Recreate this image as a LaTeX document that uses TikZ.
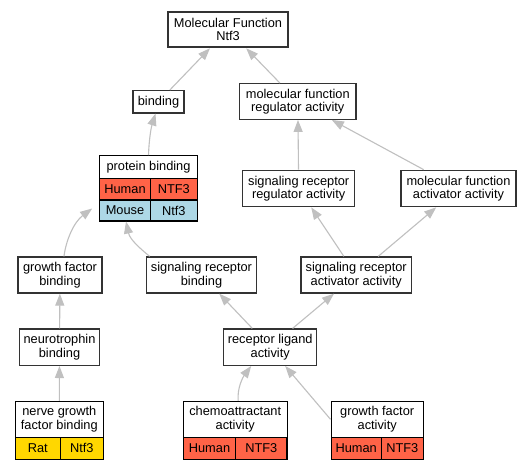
\documentclass[tikz,border=0pt]{standalone}
\usepackage{fontspec}
\setmainfont{Liberation Sans}
\usetikzlibrary{arrows.meta}
\definecolor{tomatoc}{HTML}{FF6347}
\definecolor{lblue}{HTML}{ADD8E6}
\definecolor{goldc}{HTML}{FFD700}
\definecolor{edgec}{HTML}{C0C0C0}
\definecolor{borderc}{HTML}{333333}
\begin{document}
\begin{tikzpicture}[x=1pt,y=-1pt,
  box/.style={draw=borderc, line width=1.3pt, fill=white, inner sep=0pt, align=center,
    font=\fontsize{12.8}{13.5}\selectfont, minimum height=36pt},
  cell/.style={draw=black, line width=1.1pt, inner sep=0pt, align=center,
    font=\fontsize{12.8}{13.5}\selectfont},
  human/.style={cell, fill=tomatoc},
  mouse/.style={cell, fill=lblue},
  rat/.style={cell, fill=goldc},
  edge/.style={draw=edgec, line width=1.1pt, -{Triangle[length=12pt,width=9pt]}}
]
\useasboundingbox (0,0) rectangle (532,469);
\fill[white] (0,0) rectangle (532,469);

% nodes
\node[box, line width=2pt, minimum width=120.6pt, minimum height=35.6pt] (mf) at (228,29.5) {Molecular Function\\Ntf3};
\node[box, minimum width=51pt, minimum height=22.3pt] (binding) at (158.5,101.8) {binding};
\node[box, minimum width=116.3pt, minimum height=35.6pt] (mfra) at (297.8,101.5) {molecular function\\regulator activity};

\node[cell, fill=white, minimum width=97.6pt, minimum height=22.6pt] (pbt) at (148.5,167) {protein binding};
\node[human, minimum width=50.6pt, minimum height=21.7pt] (pbh1) at (125,189.2) {Human};
\node[human, minimum width=47pt, minimum height=21.7pt] (pbh2) at (173.8,189.2) {NTF3};
\node[mouse, minimum width=50.6pt, minimum height=21pt] (pbm1) at (125,210.5) {Mouse};
\node[mouse, minimum width=47pt, minimum height=21pt] (pbm2) at (173.8,210.5) {Ntf3};

\node[box, minimum width=112pt, minimum height=36.4pt] (srra) at (298.7,188.5) {signaling receptor\\regulator activity};
\node[box, minimum width=115pt, minimum height=36.4pt] (mfaa) at (458.5,188.5) {molecular function\\activator activity};

\node[box, minimum width=84pt] (gfb) at (60,275) {growth factor\\binding};
\node[box, minimum width=110.4pt] (srb) at (201.5,275) {signaling receptor\\binding};
\node[box, minimum width=110.3pt] (sraa) at (356.2,275) {signaling receptor\\activator activity};

\node[box, minimum width=80.4pt, minimum height=36.3pt] (nb) at (59.5,347.2) {neurotrophin\\binding};
\node[box, minimum width=93pt, minimum height=36.3pt] (rla) at (270.2,347.2) {receptor ligand\\activity};

\node[cell, fill=white, minimum width=88pt, minimum height=36pt] (ngfbt) at (59.3,419.3) {nerve growth\\factor binding};
\node[rat, minimum width=45pt, minimum height=21.7pt] (ngfb1) at (37.8,448.2) {Rat};
\node[rat, minimum width=43pt, minimum height=21.7pt] (ngfb2) at (81.8,448.2) {Ntf3};

\node[cell, fill=white, minimum width=103.7pt, minimum height=36pt] (chemot) at (235.2,419.3) {chemoattractant\\activity};
\node[human, minimum width=52.4pt, minimum height=21.7pt] (chemo1) at (209.5,448.2) {Human};
\node[human, minimum width=51.3pt, minimum height=21.7pt] (chemo2) at (261.3,448.2) {NTF3};

\node[cell, fill=white, minimum width=92.3pt, minimum height=36pt] (gfat) at (377.2,419.3) {growth factor\\activity};
\node[human, minimum width=50.3pt, minimum height=21.7pt] (gfa1) at (356.2,448.2) {Human};
\node[human, minimum width=42pt, minimum height=21.7pt] (gfa2) at (402.3,448.2) {NTF3};

% edges
\draw[edge] (binding) -- (mf);
\draw[edge] (mfra) -- (mf);
\draw[edge] (pbt.north) .. controls (149,140) and (151,128) .. ([xshift=-3pt]binding.south);
\draw[edge] (srra) -- (mfra);
\draw[edge] (mfaa) -- (mfra);
\draw[edge] ([xshift=4pt]gfb.north) .. controls (66,240) and (74,222) .. ([shift={(-7,-2)}]pbm1.west);
\draw[edge] ([xshift=4pt]srb.north west) .. controls (142,250) and (130,240) .. ([xshift=1pt]pbm1.south);
\draw[edge] (sraa) -- (srra);
\draw[edge] (sraa) -- (mfaa);
\draw[edge] (nb) -- (gfb);
\draw[edge] (rla) -- (srb);
\draw[edge] (rla) -- (sraa);
\draw[edge] (ngfbt) -- (nb);
\draw[edge] ([xshift=3pt]chemot.north) .. controls (237,388) and (243,377) .. ([xshift=-19pt]rla.south);
\draw[edge] (gfat.west) -- ([xshift=15pt]rla.south);
\end{tikzpicture}
\end{document}
